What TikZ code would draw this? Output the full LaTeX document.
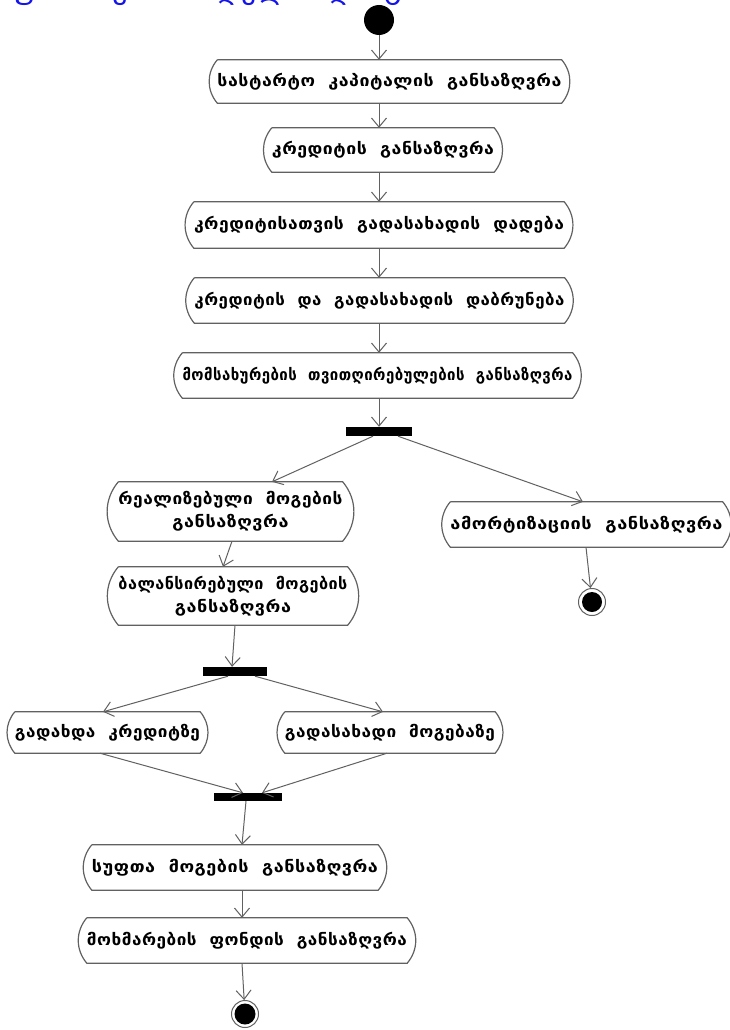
\documentclass[tikz,border=0pt]{standalone}
\usepackage{fontspec}
\usepackage{graphicx}
\newfontfamily\geo[LetterSpace=3,WordSpace=2]{DejaVu Sans Bold}
\newfontfamily\geoplain{DejaVu Sans}
\newcommand{\fw}[2]{\resizebox{#1}{\height}{#2}}
\usetikzlibrary{arrows.meta,calc}
\definecolor{edgec}{gray}{0.38}
\definecolor{ttl}{RGB}{20,20,235}
\begin{document}
\begin{tikzpicture}[x=1pt,y=-1pt,
  act/.style={inner sep=0pt, align=center, font=\geo\fontsize{16}{23}\selectfont},
  outl/.style={draw=edgec, line width=1.2pt},
  arr/.style={draw=edgec, line width=1pt, -{Straight Barb[length=9pt,width=15pt,line width=1pt]}},
  syncbar/.style={fill=black, draw=none, inner sep=0pt},
  startc/.style={circle, fill=black, inner sep=0pt, minimum size=30pt},
  endc/.style={circle, draw=edgec, line width=1pt, inner sep=0pt, minimum size=27pt},
  ]
\useasboundingbox (0,0) rectangle (730,1030);
\fill[white] (0,0) rectangle (730,1030);

% partially visible title line at the top edge
\node[anchor=base west, inner sep=0pt, text=ttl, font=\geoplain\fontsize{30}{34}\selectfont] (title) at (10,-1.5) {ფინანსური მოდელის დიაგრამა};

% start
\node[startc] (start) at (379,20) {};

% activities
\node[act, minimum width=339pt, minimum height=43pt] (b1) at (389.5,81.5) {\fw{344pt}{სასტარტო კაპიტალის განსაზღვრა}};
\node[act, minimum width=218pt, minimum height=44pt] (b2) at (383,150) {\fw{222pt}{კრედიტის განსაზღვრა}};
\node[act, minimum width=362pt, minimum height=46pt] (b3) at (379,225) {\fw{370pt}{კრედიტისათვის გადასახადის დადება}};
\node[act, minimum width=363pt, minimum height=45pt] (b4) at (379.5,300.5) {\fw{370pt}{კრედიტის და გადასახადის დაბრუნება}};
\node[act, minimum width=385pt, minimum height=45pt] (b5) at (377.5,375.5) {\fw{390pt}{მომსახურების თვითღირებულების განსაზღვრა}};
\node[act, minimum width=215pt, minimum height=59pt] (b6) at (230.5,511.5) {\fw{224pt}{რეალიზებული მოგების}\\\fw{116pt}{განსაზღვრა}};
\node[act, minimum width=267pt, minimum height=45pt] (b7) at (586.5,524.5) {\fw{272pt}{ამორტიზაციის განსაზღვრა}};
\node[act, minimum width=220pt, minimum height=58pt] (b8) at (233,596) {\fw{229pt}{ბალანსირებული მოგების}\\\fw{116pt}{განსაზღვრა}};
\node[act, minimum width=175pt, minimum height=41pt] (b9) at (107.5,732.5) {\fw{185pt}{გადახდა კრედიტზე}};
\node[act, minimum width=200pt, minimum height=41pt] (b10) at (390,732.5) {\fw{210pt}{გადასახადი მოგებაზე}};
\node[act, minimum width=284pt, minimum height=45pt] (b11) at (235,867.5) {\fw{286pt}{სუფთა მოგების განსაზღვრა}};
\node[act, minimum width=314pt, minimum height=45pt] (b12) at (247,940.5) {\fw{320pt}{მოხმარების ფონდის განსაზღვრა}};

\foreach \n in {b1,b2,b3,b4,b5,b6,b7,b8,b9,b10,b11,b12}
  \draw[outl] (\n.north west) -- (\n.north east) to[bend left=40] (\n.south east)
     -- (\n.south west) to[bend left=40] (\n.north west);

% synchronisation bars
\node[syncbar, minimum width=66pt, minimum height=9pt] (bar1) at (379,431.5) {};
\node[syncbar, minimum width=64pt, minimum height=9pt] (bar2) at (235,671.5) {};
\node[syncbar, minimum width=68pt, minimum height=8pt] (bar3) at (248,797) {};

% final nodes
\node[endc] (end1) at (592,602) {};
\fill (end1) circle (10pt);
\node[endc] (end2) at (245,1014) {};
\fill (end2) circle (10.5pt);

% connectors
\draw[arr] (start) -- (start |- b1.north);
\draw[arr] (b1.south -| start) -- (b2.north -| start);
\draw[arr] (b2.south -| start) -- (b3.north -| start);
\draw[arr] (b3.south -| start) -- (b4.north -| start);
\draw[arr] (b4.south -| start) -- (b5.north -| start);
\draw[arr] (b5.south -| start) -- (bar1.north -| start);
\draw[arr] ([xshift=-6pt]bar1.south) -- ([xshift=41.5pt]b6.north);
\draw[arr] ([xshift=19pt]bar1.south) -- ([xshift=-3.5pt]b7.north);
\draw[arr] ([xshift=1.5pt]b6.south) -- ([xshift=-10pt]b8.north);
\draw[arr] ([xshift=-0.5pt]b7.south) -- (end1);
\draw[arr] ([xshift=2pt]b8.south) -- ([xshift=-3pt]bar2.north);
\draw[arr] ([xshift=-7pt]bar2.south) -- ([xshift=-4.5pt]b9.north);
\draw[arr] ([xshift=20pt]bar2.south) -- ([xshift=-7pt]b10.north);
\draw[arr] ([xshift=-7.5pt]b9.south) -- ([xshift=-5pt]bar3.north);
\draw[arr] ([xshift=-3pt]b10.south) -- ([xshift=14pt]bar3.north);
\draw[arr] ([xshift=-2pt]bar3.south) -- ([xshift=7pt]b11.north);
\draw[arr] ([xshift=7pt]b11.south) -- ([xshift=-5pt]b12.north);
\draw[arr] ([xshift=-5pt]b12.south) -- (end2);
\end{tikzpicture}
\end{document}
